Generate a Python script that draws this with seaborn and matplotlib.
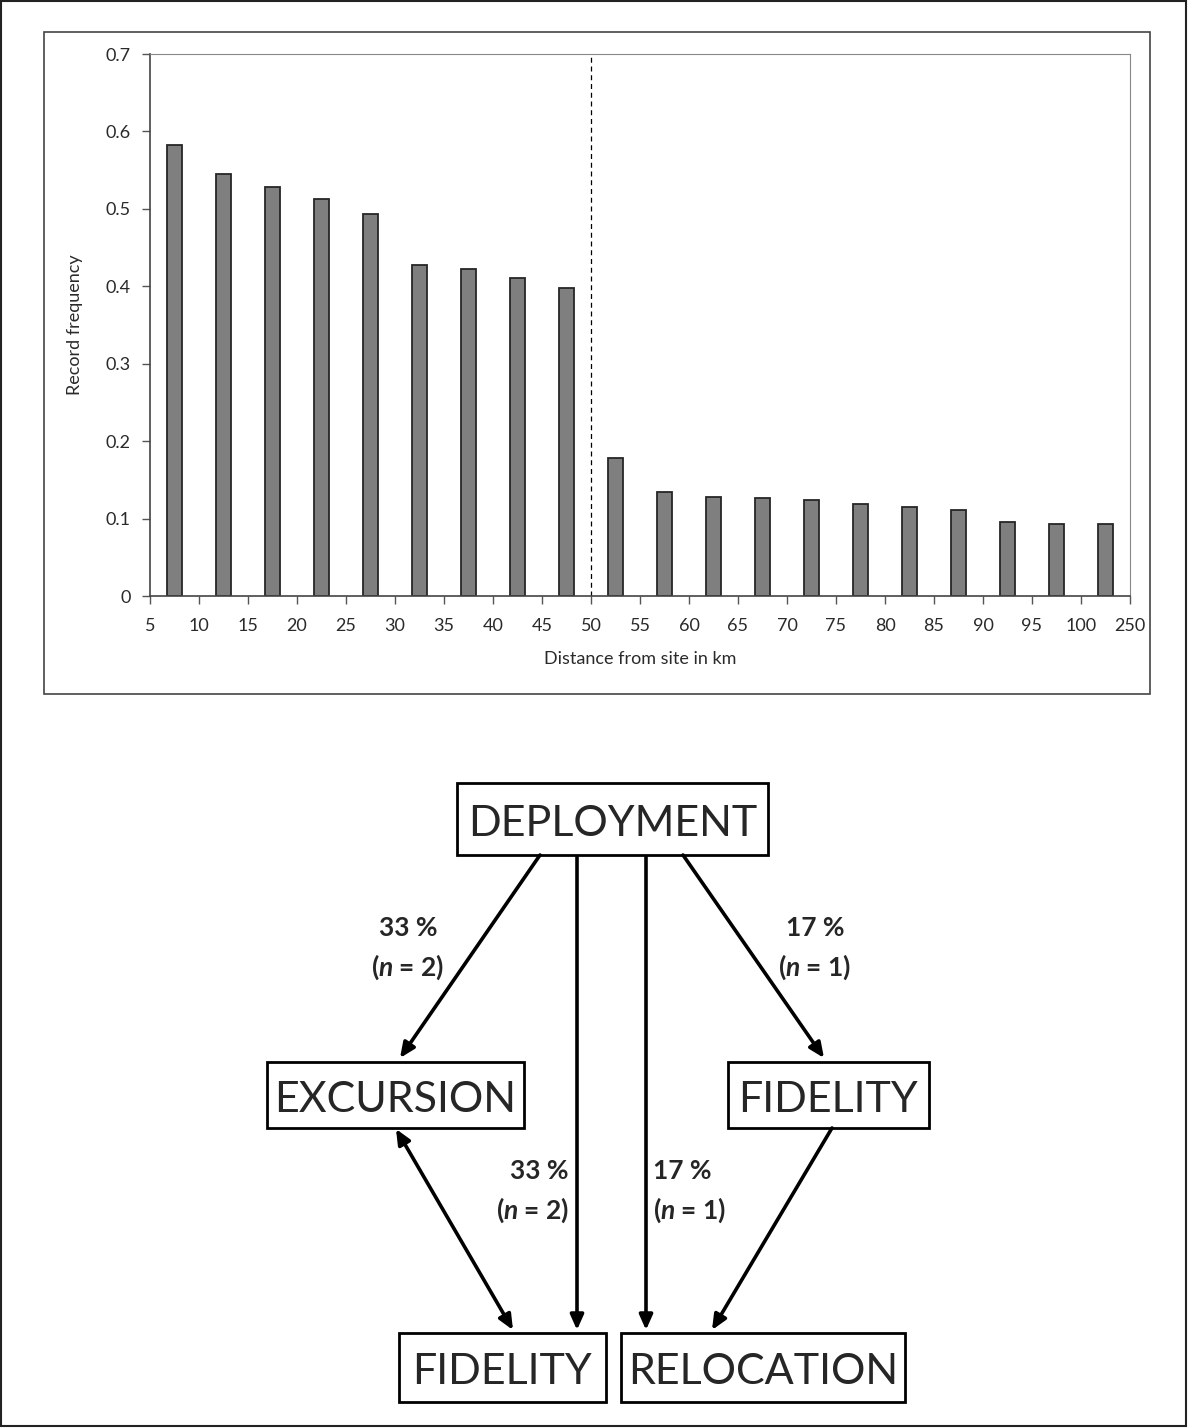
import numpy as np
import matplotlib
matplotlib.use("Agg")
import matplotlib.pyplot as plt
from matplotlib.patches import Rectangle, FancyArrowPatch
import seaborn as sns

# Distance bins (edges in km) and record frequency per bin
bin_edges = [5, 10, 15, 20, 25, 30, 35, 40, 45, 50, 55, 60, 65, 70, 75, 80, 85, 90, 95, 100, 250]
frequency = [0.583, 0.545, 0.528, 0.513, 0.493, 0.428, 0.422, 0.411, 0.398,
             0.178, 0.134, 0.128, 0.126, 0.124, 0.119, 0.115, 0.111, 0.095, 0.093, 0.093]
cutoff_km = 50
y_ticks = [0, 0.1, 0.2, 0.3, 0.4, 0.5, 0.6, 0.7]

# Flow diagram: node labels and outcome labels
node_names = ["DEPLOYMENT", "EXCURSION", "FIDELITY", "FIDELITY", "RELOCATION"]
flow_pct = ["33 %", "17 %", "33 %", "17 %"]
flow_n = [2, 1, 2, 1]

sns.set_style("ticks")
plt.rcParams["font.family"] = ["Lato", "DejaVu Sans"]
plt.rcParams["mathtext.fontset"] = "custom"
plt.rcParams["mathtext.it"] = "Lato:italic:bold"
plt.rcParams["mathtext.rm"] = "Lato:bold"

W, H = 1188, 1428
fig = plt.figure(figsize=(W / 100, H / 100), dpi=100)

# ---- bar chart ----
ax = fig.add_axes([150 / W, 1 - 596 / H, 980 / W, 542 / H])
bin_labels = [f"{a}-{b}" for a, b in zip(bin_edges[:-1], bin_edges[1:])]
sns.barplot(x=bin_labels, y=frequency, color="#7f7f7f", edgecolor="#262626",
            linewidth=1.3, width=0.31, saturation=1, ax=ax)
ax.set_xlim(-0.5, len(frequency) - 0.5)
ax.set_ylim(0, 0.7)
ax.set_xticks(np.arange(len(bin_edges)) - 0.5)
ax.set_xticklabels([str(e) for e in bin_edges], fontsize=13, color="#2a2a2a")
ax.set_yticks(y_ticks)
ax.set_yticklabels(["0" if t == 0 else f"{t:.1f}" for t in y_ticks], fontsize=13, color="#2a2a2a")
ax.tick_params(axis="x", length=6, width=1, color="#555555", pad=10)
ax.tick_params(axis="y", length=6, width=1, color="#555555", pad=8)
ax.axvline(bin_edges.index(cutoff_km) - 0.5, color="black", ls=(0, (4, 3)), lw=0.9)
ax.set_xlabel("Distance from site in km", fontsize=13, color="#2a2a2a", labelpad=12)
ax.set_ylabel("Record frequency", fontsize=13, color="#2a2a2a", labelpad=16)
for side in ["top", "right"]:
    ax.spines[side].set_visible(True)
    ax.spines[side].set_color("#888888")
for side in ["left", "bottom"]:
    ax.spines[side].set_color("#444444")
    ax.spines[side].set_linewidth(1.2)

# ---- diagram overlay (pixel coordinates) ----
dx = fig.add_axes([0, 0, 1, 1], zorder=-1)
dx.set_xlim(0, W)
dx.set_ylim(H, 0)
dx.axis("off")

dx.add_patch(Rectangle((1, 1), W - 3, H - 3, fill=False, ec="#222222", lw=1.5))
dx.add_patch(Rectangle((44, 32), 1106, 662, fill=False, ec="#444444", lw=1.2))

boxes = [(457, 783, 311, 72), (267, 1062, 257, 66), (728, 1062, 201, 66),
         (399, 1333, 207, 69), (621, 1333, 284, 69)]
for (x, y, w, h), name in zip(boxes, node_names):
    dx.add_patch(Rectangle((x, y), w, h, fill=False, ec="black", lw=2))
    dx.text(x + w / 2, y + h / 2 + 5, name, ha="center", va="center", fontsize=31)

arrows = [((540, 855), (400, 1058), "-|>"), ((577, 857), (577, 1330), "-|>"),
          ((646, 857), (646, 1330), "-|>"), ((683, 855), (824, 1058), "-|>"),
          ((396, 1129), (513, 1330), "<|-|>"), ((832, 1128), (712, 1330), "-|>")]
for (p0, p1, style) in arrows:
    dx.add_patch(FancyArrowPatch(p0, p1, arrowstyle=style + ",head_length=9,head_width=4",
                                 lw=2.6, color="black", shrinkA=0, shrinkB=0,
                                 mutation_scale=1))

label_pos = [(408, "center"), (815, "center"), (569, "right"), (653, "left")]
label_y = [928, 928, 1171, 1171]
for (x, ha), y, pct, n in zip(label_pos, label_y, flow_pct, flow_n):
    dx.text(x, y, pct, ha=ha, va="center", fontsize=19, fontweight="bold")
    dx.text(x, y + 39, f"($n$ = {n})", ha=ha, va="center", fontsize=19, fontweight="bold")

fig.savefig("out.png", dpi=100)
